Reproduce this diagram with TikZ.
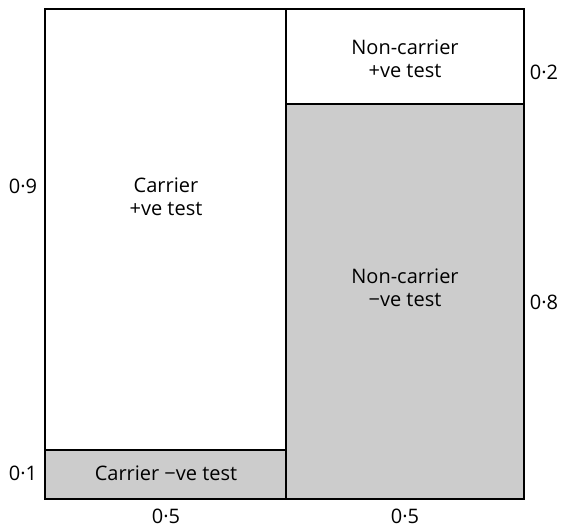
\documentclass[tikz,border=0pt]{standalone}
\usepackage{fontspec}
\setmainfont{Open Sans}
\tikzset{
  cell/.style={align=center, font=\fontsize{20}{23}\selectfont},
  prob/.style={font=\fontsize{20}{23}\selectfont}
}
\begin{document}
\begin{tikzpicture}[x=1pt,y=-1pt]
 \useasboundingbox (0,0) rectangle (562,527);
 % shaded cells
 \fill[black!20](45,450) rectangle (286,499);
 \fill[black!20](286,104) rectangle (524,499);
 % outline and dividers
 \draw[line width=1.2pt](45,9) rectangle (524,499);
 \draw[line width=1.2pt](286,9)--(286,499);
 \draw[line width=1.2pt](45,450)--(286,450);
 \draw[line width=1.2pt](286,104)--(524,104);
 % cell labels
 \node[cell] (cpos) at (166,197) {Carrier\\+ve test};
 \node[cell] (cneg) at (166,473) {Carrier −ve test};
 \node[cell] (npos) at (405,59) {Non-carrier\\+ve test};
 \node[cell] (nneg) at (405,288) {Non-carrier\\−ve test};
 % proportions
 \node[prob] (p09) at (23,186) {0·9};
 \node[prob] (p01) at (23,473) {0·1};
 \node[prob] (p02) at (544,72) {0·2};
 \node[prob] (p08) at (544,302) {0·8};
 \node[prob] (w1) at (166,516) {0·5};
 \node[prob] (w2) at (405,516) {0·5};
\end{tikzpicture}
\end{document}
